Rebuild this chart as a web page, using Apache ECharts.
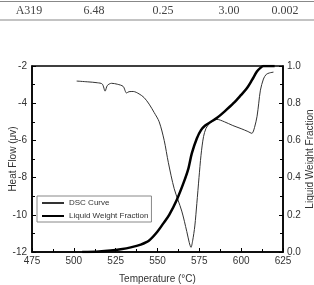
<!DOCTYPE html>
<html>
<head>
<meta charset="utf-8">
<script src="https://cdn.jsdelivr.net/npm/echarts@6/dist/echarts.min.js"></script>
<style>
html,body{margin:0;padding:0;background:#fff;}
#chart{width:314px;height:285px;}
</style>
</head>
<body>
<div id="chart"></div>
<script>
// Table row above chart
const tableCells = ['A319', '6.48', '0.25', '3.00', '0.002'];
const tableCellX = [29, 94, 163, 229, 285];

// DSC curve (Temperature °C, Heat flow μv)
const dscTemp = [501.7, 508, 514, 517, 518.7, 520, 522.5, 526, 529.5, 531.5, 533, 535.5, 539, 542, 545, 548, 551, 554, 556.5, 560, 564.5, 567.5, 569, 570, 571, 572.3, 573.5, 574.8, 576, 577.5, 579, 581, 583, 585.5, 590, 595, 600, 604, 606.4, 608, 609.5, 610.5, 611.5, 613.3, 615, 617, 619.3];
const dscHeat = [-2.81, -2.85, -2.9, -2.97, -3.35, -3.05, -2.93, -2.98, -3.1, -3.45, -3.38, -3.37, -3.5, -3.7, -4.05, -4.5, -5.0, -6.0, -7.2, -8.6, -9.8, -10.9, -11.5, -11.75, -11.4, -10.6, -9.4, -8.0, -6.8, -5.8, -5.35, -5.1, -4.93, -4.87, -5.0, -5.2, -5.37, -5.52, -5.62, -5.3, -4.7, -4.0, -3.3, -2.7, -2.45, -2.37, -2.33];

// Liquid weight fraction
const lwfTemp = [505, 515, 522, 528, 534, 540, 545, 550, 553.5, 557, 561.5, 565.5, 568.5, 570.5, 573.5, 576, 578.5, 582, 585.4, 590, 595.4, 600, 603.4, 606.5, 609.4, 611.5, 613.3, 620];
const lwfFrac = [0, 0.003, 0.008, 0.015, 0.025, 0.04, 0.062, 0.11, 0.154, 0.2, 0.28, 0.37, 0.45, 0.53, 0.61, 0.655, 0.68, 0.70, 0.72, 0.755, 0.80, 0.845, 0.88, 0.925, 0.97, 0.99, 1.0, 1.0];

const seriesNames = ['DSC Curve', 'Liquid Weight Fraction'];
const xTicks = {min: 475, max: 625, interval: 25};
const yLeftTicks = {min: -12, max: -2, interval: 2};
const yRightTicks = {min: 0, max: 1, interval: 0.2};

const chart = echarts.init(document.getElementById('chart'));
const labelColor = '#333';
const font = 'Liberation Sans';

const graphics = [
  {type: 'line', shape: {x1: 0, y1: 1.5, x2: 314, y2: 1.5}, style: {stroke: '#888', lineWidth: 1.2}},
  {type: 'line', shape: {x1: 0, y1: 20, x2: 314, y2: 20}, style: {stroke: '#888', lineWidth: 1.2}}
];
tableCells.forEach((t, i) => {
  graphics.push({type: 'text', x: tableCellX[i], y: 11,
    style: {text: t, font: '12px "Liberation Serif"', fill: '#444', textAlign: 'center', textVerticalAlign: 'middle'}});
});

function axisCommon() {
  return {
    axisLine: {show: true, lineStyle: {color: '#000', width: 1.5}},
    axisTick: {show: true, inside: true, length: 4, lineStyle: {color: '#000', width: 1}},
    minorTick: {show: true, splitNumber: 2, length: 3, lineStyle: {color: '#000', width: 1}},
    splitLine: {show: false},
    axisLabel: {fontSize: 10, color: labelColor, fontFamily: font},
    nameTextStyle: {fontSize: 10, color: labelColor, fontFamily: font},
    nameLocation: 'middle',
    nameMoveOverlap: false
  };
}

chart.setOption({
  animation: false,
  backgroundColor: '#fff',
  graphic: graphics,
  grid: {left: 32, right: 31, top: 66, bottom: 33, containLabel: false, outerBoundsMode: 'none',
    show: true, borderColor: '#000', borderWidth: 1.5},
  legend: {
    orient: 'vertical', left: 37, top: 196,
    data: seriesNames,
    borderColor: '#888', borderWidth: 1, padding: [3, 3, 2, 4],
    itemGap: 5, itemWidth: 22, itemHeight: 10,
    itemStyle: {opacity: 0, borderWidth: 0},
    textStyle: {fontSize: 8, color: labelColor, fontFamily: font}
  },
  xAxis: Object.assign(axisCommon(), {
    type: 'value', min: xTicks.min, max: xTicks.max, interval: xTicks.interval,
    name: 'Temperature (°C)', nameGap: 22,
    axisLabel: {fontSize: 10, color: labelColor, fontFamily: font, margin: 4}
  }),
  yAxis: [
    Object.assign(axisCommon(), {
      type: 'value', min: yLeftTicks.min, max: yLeftTicks.max, interval: yLeftTicks.interval,
      name: 'Heat Flow (μv)', nameGap: 14,
      axisLabel: {fontSize: 10, color: labelColor, fontFamily: font, margin: 5}
    }),
    Object.assign(axisCommon(), {
      type: 'value', position: 'right', min: yRightTicks.min, max: yRightTicks.max, interval: yRightTicks.interval,
      name: 'Liquid Weight Fraction', nameGap: 22, nameRotate: 90,
      axisLabel: {fontSize: 10, color: labelColor, fontFamily: font, margin: 4, formatter: v => v.toFixed(1)}
    })
  ],
  series: [
    {name: seriesNames[0], type: 'line', yAxisIndex: 0, symbol: 'none', smooth: 0.3,
      data: dscTemp.map((t, i) => [t, dscHeat[i]]),
      lineStyle: {color: '#333', width: 1}, itemStyle: {color: '#333'}},
    {name: seriesNames[1], type: 'line', yAxisIndex: 1, symbol: 'none', smooth: 0.3,
      data: lwfTemp.map((t, i) => [t, lwfFrac[i]]),
      lineStyle: {color: '#000', width: 2.5}, itemStyle: {color: '#000'}}
  ]
});
</script>
</body>
</html>
